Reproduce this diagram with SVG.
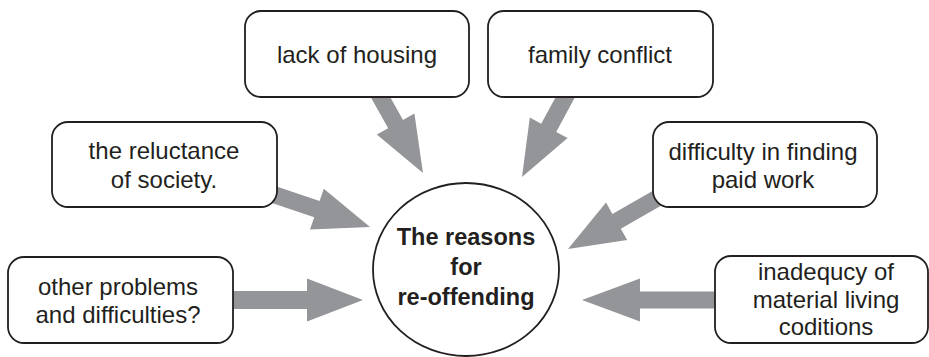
<svg xmlns="http://www.w3.org/2000/svg" width="929" height="357" viewBox="0 0 929 357">
<style>
.box{fill:#fff;stroke:#231f20;stroke-width:1.8}
.arrow{fill:#939598;stroke:none}
.t{font-family:"Liberation Sans",Arial,sans-serif;font-size:24px;fill:#231f20;text-anchor:middle}
.title{font-family:"Liberation Sans",Arial,sans-serif;font-size:23.5px;font-weight:bold;fill:#231f20;text-anchor:middle}
</style>
<rect width="929" height="357" fill="#fff"/>
<g id="connectors">
<polygon class="arrow" points="366.3,89.2 388.2,128.3 376.8,134.6 423,173 414.4,113.6 403.0,119.9 381.1,80.8"/>
<polygon class="arrow" points="564.4,81.0 541.2,123.8 529.8,117.6 522,177 567.6,138.0 556.2,131.9 579.4,89.0"/>
<polygon class="arrow" points="262.3,199.7 314.2,217.2 310.0,229.5 370,227 323.8,188.7 319.6,201.0 267.7,183.5"/>
<polygon class="arrow" points="660.8,186.3 612.4,213.9 606.0,202.6 568,249 627.2,240.0 620.8,228.7 669.2,201.1"/>
<polygon class="arrow" points="225,291 307,291 307,278.5 363,300 307,321.5 307,309 225,309"/>
<polygon class="arrow" points="725,291.5 640,291.5 640,278.5 582,300 640,321.5 640,308.5 725,308.5"/>
</g>
<g id="center">
<ellipse class="box" cx="466" cy="269.5" rx="93" ry="86.5"/>
<text class="title" x="466" y="245">The reasons</text>
<text class="title" x="466" y="275">for</text>
<text class="title" x="466" y="305">re-offending</text>
</g>
<g id="lack-of-housing">
<rect class="box" x="245" y="11" width="224" height="86" rx="16"/>
<text class="t" x="357" y="63">lack of housing</text>
</g>
<g id="family-conflict">
<rect class="box" x="488" y="11" width="225" height="86" rx="16"/>
<text class="t" x="600" y="63">family conflict</text>
</g>
<g id="reluctance">
<rect class="box" x="52" y="122" width="225" height="85" rx="16"/>
<text class="t" x="164" y="159">the reluctance</text>
<text class="t" x="164" y="188">of society.</text>
</g>
<g id="other-problems">
<rect class="box" x="8" y="257" width="225" height="86" rx="16"/>
<text class="t" x="118" y="295">other problems</text>
<text class="t" x="118" y="323">and difficulties?</text>
</g>
<g id="paid-work">
<rect class="box" x="653" y="122" width="224" height="85" rx="16"/>
<text class="t" x="763" y="160">difficulty in finding</text>
<text class="t" x="763" y="188">paid work</text>
</g>
<g id="living-conditions">
<rect class="box" x="715" y="256" width="213" height="87" rx="16"/>
<text class="t" x="826" y="280">inadequcy of</text>
<text class="t" x="826" y="308">material living</text>
<text class="t" x="826" y="335">coditions</text>
</g>
</svg>
